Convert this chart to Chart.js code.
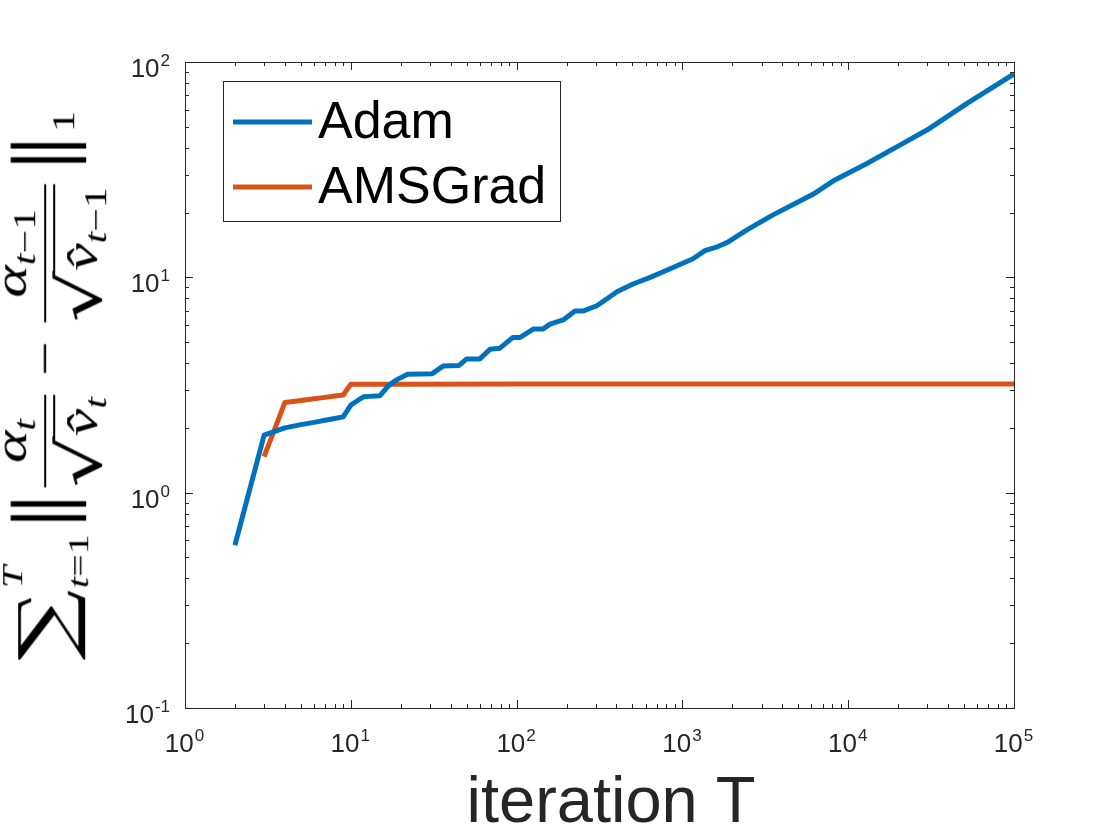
<!DOCTYPE html>
<html>
<head>
<meta charset="utf-8">
<script src="https://cdn.jsdelivr.net/npm/chart.js@4.4.1/dist/chart.umd.min.js"></script>
<style>
  html, body { margin:0; padding:0; background:#fff; }
  #wrap { position:relative; width:1120px; height:840px; overflow:hidden; background:#fff; }
  #cbox { position:absolute; left:0; top:0; width:1120px; height:840px; }
  #ytitle { position:absolute; left:0; top:0; display:flex; align-items:center; white-space:nowrap;
            font-family:'Liberation Serif','DejaVu Serif',serif; font-size:46px; line-height:1; color:#000;
            transform-origin:50% 50%; }
  #ytitle i { font-style:italic; }
  #ytitle .big { font-size:74px; line-height:1; font-family:'DejaVu Serif','Liberation Serif',serif; }
  #ytitle .limits { display:inline-flex; flex-direction:column; justify-content:space-between; height:96px;
                    font-size:30px; margin-left:1px; }
  #ytitle .lsup { font-style:italic; }
  #ytitle .lsub { font-style:normal; }
  #ytitle .nrm { font-size:82px; line-height:1; font-family:'Liberation Serif','DejaVu Serif',serif; margin:0 4px; letter-spacing:-6px; transform:translateY(-4px); }
  #ytitle .frac { display:inline-grid; grid-template-rows:1fr auto 1fr; justify-items:center; margin:0 6px; }
  #ytitle .num { align-self:end; padding:0 2px 3px; }
  #ytitle .bar { height:2px; background:#000; justify-self:stretch; }
  #ytitle .den { align-self:start; display:inline-flex; align-items:flex-start; padding-top:4px; }
  #ytitle .rad { font-size:60px; line-height:1; font-family:'DejaVu Serif','Liberation Serif',serif; }
  #ytitle .vin { border-top:2px solid #000; padding:4px 2px 0 2px; margin-top:3px; margin-left:-2px; }
  #ytitle sub { font-size:0.68em; vertical-align:-0.3em; line-height:1; }
  #ytitle .op { margin:0 8px; }
  #ytitle .nsub { font-size:32px; align-self:center; transform:translateY(18px); margin-left:4px; }
</style>
</head>
<body>
<div id="wrap">
  <div id="cbox"><canvas id="c"></canvas></div>
  <div id="ytitle"><span class="big">∑</span><span class="limits"><span class="lsup">T</span><span class="lsub"><i>t</i>=1</span></span><span class="nrm">||</span><span class="frac"><span class="num"><i>α</i><sub><i>t</i></sub></span><span class="bar"></span><span class="den"><span class="rad">√</span><span class="vin"><i>v̂</i><sub><i>t</i></sub></span></span></span><span class="op">−</span><span class="frac"><span class="num"><i>α</i><sub><i>t</i>−1</sub></span><span class="bar"></span><span class="den"><span class="rad">√</span><span class="vin"><i>v̂</i><sub><i>t</i>−1</sub></span></span></span><span class="nrm">||</span><span class="nsub">1</span></div>
</div>
<script>
// ---- data ----
const adamX = [2,3,4,5,6,7,8,9,10,11,12,13,14,15,17,19,22,31,36,45,50,60,69,79,95,105,126,144,159,191,225,251,305,403,504,640,878,1159,1368,1640,1858,2452,3520,5118,6134,8096,12970,20500,29850,52100,100000];
const adamY = [0.57,1.85,2.0,2.07,2.12,2.17,2.21,2.25,2.55,2.68,2.79,2.80,2.81,2.82,3.16,3.35,3.55,3.57,3.87,3.9,4.18,4.18,4.63,4.68,5.26,5.26,5.75,5.75,6.06,6.34,6.97,6.97,7.38,8.57,9.31,10.0,11.1,12.2,13.3,13.9,14.5,16.6,19.5,22.6,24.3,28.0,33.8,41.1,48.3,64.3,88];
const amsX = [3,4,5,6,7,8,9,10,20,100,1000,10000,100000];
const amsY = [1.47,2.62,2.68,2.73,2.77,2.81,2.84,3.19,3.19,3.2,3.2,3.2,3.2];
const seriesNames = ['Adam','AMSGrad'];
const seriesColors = ['#0072BD','#D95319'];
const xTickExps = [0,1,2,3,4,5];
const yTickExps = [-1,0,1,2];
const xTitle = 'iteration T';

const AX = '#262626';
const SANS = "'Liberation Sans', Arial, Helvetica, sans-serif";

const boxPlugin = {
  id: 'matlabBox',
  afterDatasetsDraw(chart) {
    const ctx = chart.ctx;
    const a = chart.chartArea;
    const xs = chart.scales.x, ys = chart.scales.y;
    ctx.save();
    // box
    ctx.strokeStyle = AX; ctx.lineWidth = 1;
    ctx.strokeRect(Math.round(a.left)+0.5, Math.round(a.top)+0.5, Math.round(a.right-a.left), Math.round(a.bottom-a.top));
    // ticks
    ctx.beginPath();
    const xmin = xTickExps[0], xmax = xTickExps[xTickExps.length-1];
    for (let k = xmin; k <= xmax; k++) {
      for (let m = 1; m <= 9; m++) {
        if (k === xmax && m > 1) break;
        const v = m * Math.pow(10, k);
        const px = Math.round(xs.getPixelForValue(v)) + 0.5;
        const len = m === 1 ? 8 : 4;
        ctx.moveTo(px, a.bottom); ctx.lineTo(px, a.bottom - len);
        ctx.moveTo(px, a.top); ctx.lineTo(px, a.top + len);
      }
    }
    const ymin = yTickExps[0], ymax = yTickExps[yTickExps.length-1];
    for (let k = ymin; k <= ymax; k++) {
      for (let m = 1; m <= 9; m++) {
        if (k === ymax && m > 1) break;
        const v = m * Math.pow(10, k);
        const py = Math.round(ys.getPixelForValue(v)) + 0.5;
        const len = m === 1 ? 8 : 4;
        ctx.moveTo(a.left, py); ctx.lineTo(a.left + len, py);
        ctx.moveTo(a.right, py); ctx.lineTo(a.right - len, py);
      }
    }
    ctx.stroke();

    // tick labels
    ctx.fillStyle = AX;
    ctx.textBaseline = 'alphabetic';
    const bigF = '26px ' + SANS, smallF = '17px ' + SANS;
    xTickExps.forEach(e => {
      const px = xs.getPixelForValue(Math.pow(10, e));
      ctx.font = bigF; const w1 = ctx.measureText('10').width;
      ctx.font = smallF; const w2 = ctx.measureText(String(e)).width;
      const left = px - (w1 + w2) / 2 - 1;
      ctx.font = bigF; ctx.textAlign = 'left'; ctx.fillText('10', left, a.bottom + 44);
      ctx.font = smallF; ctx.fillText(String(e), left + w1 + 1, a.bottom + 33);
    });
    yTickExps.forEach(e => {
      const py = ys.getPixelForValue(Math.pow(10, e));
      ctx.font = smallF; const w2 = ctx.measureText(String(e)).width;
      ctx.font = bigF; const w1 = ctx.measureText('10').width;
      const right = a.left - 15;
      ctx.textAlign = 'left';
      ctx.font = smallF; ctx.fillText(String(e), right - w2, py + 4);
      ctx.font = bigF; ctx.fillText('10', right - w2 - w1 - 1, py + 15);
    });

    // x title
    ctx.fillStyle = AX;
    ctx.font = '65px ' + SANS;
    ctx.textAlign = 'center';
    ctx.fillText(xTitle, 611, 822);

    // legend (inside axes, top-left)
    const lx = 223, ly = 81, lw = 337, lh = 140;
    ctx.fillStyle = '#fff';
    ctx.fillRect(lx, ly, lw, lh);
    ctx.strokeStyle = AX; ctx.lineWidth = 1;
    ctx.strokeRect(lx + 0.5, ly + 0.5, lw, lh);
    chart.data.datasets.forEach((ds, i) => {
      const cy = 122 + i * 65;
      ctx.strokeStyle = ds.borderColor; ctx.lineWidth = 5;
      ctx.beginPath(); ctx.moveTo(233, cy); ctx.lineTo(312, cy); ctx.stroke();
      ctx.fillStyle = '#000';
      ctx.font = '52px ' + SANS;
      ctx.textAlign = 'left';
      ctx.textBaseline = 'middle';
      ctx.fillText(ds.label, 318, cy + 2);
    });
    ctx.restore();
  }
};

const ctxEl = document.getElementById('c');
new Chart(ctxEl, {
  type: 'line',
  data: {
    datasets: [
      { label: seriesNames[0], data: adamX.map((x, i) => ({ x, y: adamY[i] })),
        borderColor: seriesColors[0], backgroundColor: seriesColors[0], borderWidth: 5,
        pointRadius: 0, tension: 0, fill: false, borderJoinStyle: 'round', borderCapStyle: 'butt' },
      { label: seriesNames[1], data: amsX.map((x, i) => ({ x, y: amsY[i] })),
        borderColor: seriesColors[1], backgroundColor: seriesColors[1], borderWidth: 5,
        pointRadius: 0, tension: 0, fill: false, borderJoinStyle: 'round', borderCapStyle: 'butt' }
    ]
  },
  options: {
    responsive: true,
    maintainAspectRatio: false,
    animation: false,
    events: [],
    layout: { padding: { left: 185, right: 106, top: 62, bottom: 132 } },
    plugins: { legend: { display: false }, tooltip: { enabled: false }, title: { display: false } },
    scales: {
      x: { type: 'logarithmic', min: Math.pow(10, xTickExps[0]), max: Math.pow(10, xTickExps[xTickExps.length-1]), display: false },
      y: { type: 'logarithmic', min: Math.pow(10, yTickExps[0]), max: Math.pow(10, yTickExps[yTickExps.length-1]), display: false }
    }
  },
  plugins: [boxPlugin]
});

// position the rotated y-axis title
(function placeYTitle() {
  const yt = document.getElementById('ytitle');
  const W = yt.offsetWidth, H = yt.offsetHeight;
  const targetLen = 550;
  const sx = targetLen / W;
  yt.style.left = (45 - W / 2) + 'px';
  yt.style.top = (385 - H / 2) + 'px';
  yt.style.transform = 'rotate(-90deg) scale(' + sx.toFixed(4) + ',1)';
})();
</script>
</body>
</html>
